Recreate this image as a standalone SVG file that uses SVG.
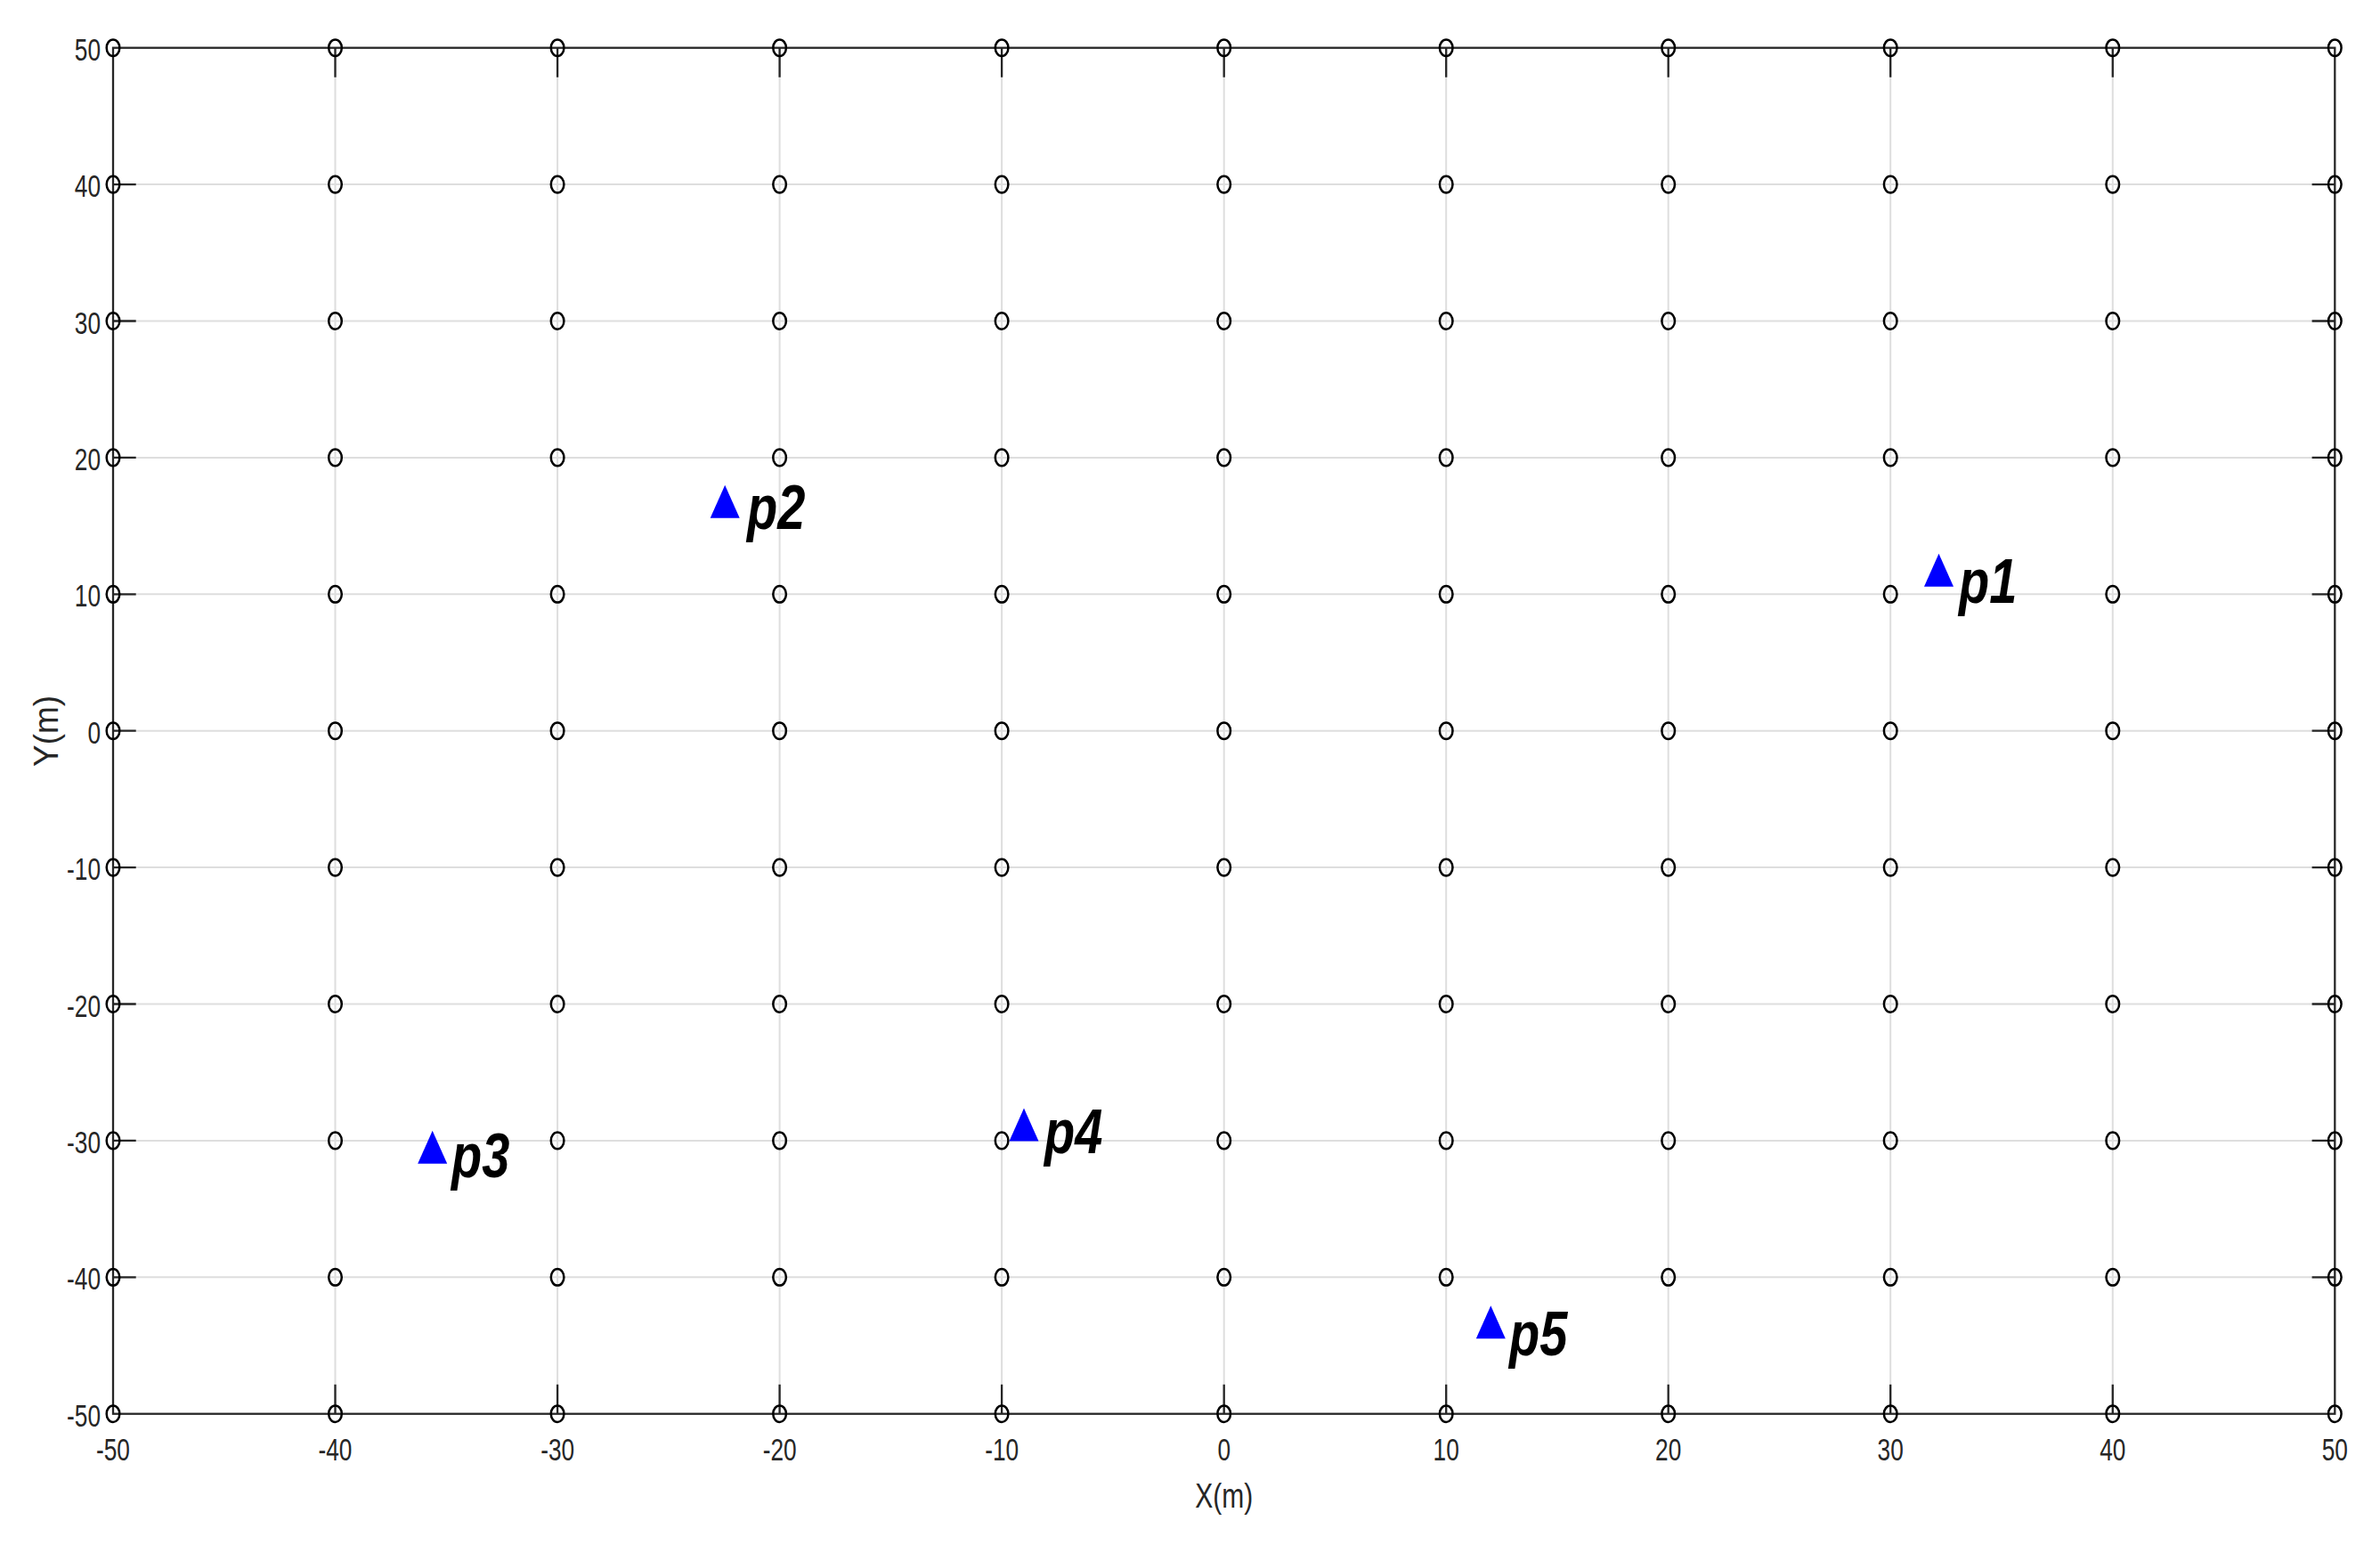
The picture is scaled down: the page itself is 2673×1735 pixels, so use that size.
<svg xmlns="http://www.w3.org/2000/svg" xmlns:xlink="http://www.w3.org/1999/xlink" width="2673" height="1735" viewBox="0 0 2673 1735">
<style>
.grid{stroke:#dedede;stroke-width:2;fill:none}
.axis{stroke:#262626;stroke-width:2.3;fill:none}
.pt{stroke:#000;stroke-width:2.5;fill:none}
.tick{font-family:"Liberation Sans",Arial,sans-serif;font-size:35px;fill:#262626}
.lab{font-family:"Liberation Sans",Arial,sans-serif;font-size:38.5px;fill:#262626}
.pl{font-family:"Liberation Sans",Arial,sans-serif;font-size:70px;font-weight:bold;font-style:italic;fill:#000}
.tri{fill:#0000ff}
</style>
<defs>
<g id="row">
<ellipse class="pt" cx="127" cy="0" rx="7.3" ry="9.3"/>
<ellipse class="pt" cx="376.5" cy="0" rx="7.3" ry="9.3"/>
<ellipse class="pt" cx="626.1" cy="0" rx="7.3" ry="9.3"/>
<ellipse class="pt" cx="875.6" cy="0" rx="7.3" ry="9.3"/>
<ellipse class="pt" cx="1125.1" cy="0" rx="7.3" ry="9.3"/>
<ellipse class="pt" cx="1374.7" cy="0" rx="7.3" ry="9.3"/>
<ellipse class="pt" cx="1624.2" cy="0" rx="7.3" ry="9.3"/>
<ellipse class="pt" cx="1873.7" cy="0" rx="7.3" ry="9.3"/>
<ellipse class="pt" cx="2123.2" cy="0" rx="7.3" ry="9.3"/>
<ellipse class="pt" cx="2372.8" cy="0" rx="7.3" ry="9.3"/>
<ellipse class="pt" cx="2622.3" cy="0" rx="7.3" ry="9.3"/>
</g>
<path id="tr" class="tri" d="M-16.5,18.5 L16.5,18.5 L0,-18.5 Z"/>
</defs>
<rect x="0" y="0" width="2673" height="1735" fill="#fff"/>
<g id="gridlines">
<path class="grid" d="M376.5,53.7V1587.7M626.1,53.7V1587.7M875.6,53.7V1587.7M1125.1,53.7V1587.7M1374.7,53.7V1587.7M1624.2,53.7V1587.7M1873.7,53.7V1587.7M2123.2,53.7V1587.7M2372.8,53.7V1587.7"/>
<path class="grid" d="M127,207.1H2622.3M127,360.5H2622.3M127,513.9H2622.3M127,667.3H2622.3M127,820.7H2622.3M127,974.1H2622.3M127,1127.5H2622.3M127,1280.9H2622.3M127,1434.3H2622.3"/>
</g>
<g id="axes">
<rect class="axis" x="127" y="53.7" width="2495.3" height="1534"/>
<path class="axis" d="M376.5,53.7v33M626.1,53.7v33M875.6,53.7v33M1125.1,53.7v33M1374.7,53.7v33M1624.2,53.7v33M1873.7,53.7v33M2123.2,53.7v33M2372.8,53.7v33
M376.5,1587.7v-33M626.1,1587.7v-33M875.6,1587.7v-33M1125.1,1587.7v-33M1374.7,1587.7v-33M1624.2,1587.7v-33M1873.7,1587.7v-33M2123.2,1587.7v-33M2372.8,1587.7v-33
M127,207.1h25.7M127,360.5h25.7M127,513.9h25.7M127,667.3h25.7M127,820.7h25.7M127,974.1h25.7M127,1127.5h25.7M127,1280.9h25.7M127,1434.3h25.7
M2622.3,207.1h-25.7M2622.3,360.5h-25.7M2622.3,513.9h-25.7M2622.3,667.3h-25.7M2622.3,820.7h-25.7M2622.3,974.1h-25.7M2622.3,1127.5h-25.7M2622.3,1280.9h-25.7M2622.3,1434.3h-25.7"/>
</g>
<g id="yticks" class="tick" text-anchor="end">
<text transform="translate(113,67.7) scale(0.75,1)">50</text>
<text transform="translate(113,221.1) scale(0.75,1)">40</text>
<text transform="translate(113,374.5) scale(0.75,1)">30</text>
<text transform="translate(113,527.9) scale(0.75,1)">20</text>
<text transform="translate(113,681.3) scale(0.75,1)">10</text>
<text transform="translate(113,834.7) scale(0.75,1)">0</text>
<text transform="translate(113,988.1) scale(0.75,1)">-10</text>
<text transform="translate(113,1141.5) scale(0.75,1)">-20</text>
<text transform="translate(113,1294.9) scale(0.75,1)">-30</text>
<text transform="translate(113,1448.3) scale(0.75,1)">-40</text>
<text transform="translate(113,1601.7) scale(0.75,1)">-50</text>
</g>
<g id="xticks" class="tick" text-anchor="middle">
<text transform="translate(127,1640) scale(0.75,1)">-50</text>
<text transform="translate(376.5,1640) scale(0.75,1)">-40</text>
<text transform="translate(626.1,1640) scale(0.75,1)">-30</text>
<text transform="translate(875.6,1640) scale(0.75,1)">-20</text>
<text transform="translate(1125.1,1640) scale(0.75,1)">-10</text>
<text transform="translate(1374.7,1640) scale(0.75,1)">0</text>
<text transform="translate(1624.2,1640) scale(0.75,1)">10</text>
<text transform="translate(1873.7,1640) scale(0.75,1)">20</text>
<text transform="translate(2123.2,1640) scale(0.75,1)">30</text>
<text transform="translate(2372.8,1640) scale(0.75,1)">40</text>
<text transform="translate(2622.3,1640) scale(0.75,1)">50</text>
</g>
<g id="labels" class="lab" text-anchor="middle">
<text transform="translate(1374.7,1693) scale(0.78,1)">X(m)</text>
<text transform="translate(65,821) rotate(-90) scale(0.96,1)">Y(m)</text>
</g>
<g id="points">
<use xlink:href="#row" href="#row" y="53.7"/>
<use xlink:href="#row" href="#row" y="207.1"/>
<use xlink:href="#row" href="#row" y="360.5"/>
<use xlink:href="#row" href="#row" y="513.9"/>
<use xlink:href="#row" href="#row" y="667.3"/>
<use xlink:href="#row" href="#row" y="820.7"/>
<use xlink:href="#row" href="#row" y="974.1"/>
<use xlink:href="#row" href="#row" y="1127.5"/>
<use xlink:href="#row" href="#row" y="1280.9"/>
<use xlink:href="#row" href="#row" y="1434.3"/>
<use xlink:href="#row" href="#row" y="1587.7"/>
</g>
<g id="p1"><use xlink:href="#tr" href="#tr" x="2177.5" y="640.3"/><text class="pl" transform="translate(2200,676.7) scale(0.8,1)">p1</text></g>
<g id="p2"><use xlink:href="#tr" href="#tr" x="814.2" y="563.3"/><text class="pl" transform="translate(839,594) scale(0.8,1)">p2</text></g>
<g id="p3"><use xlink:href="#tr" href="#tr" x="485.7" y="1288.3"/><text class="pl" transform="translate(507,1322) scale(0.8,1)">p3</text></g>
<g id="p4"><use xlink:href="#tr" href="#tr" x="1150" y="1263"/><text class="pl" transform="translate(1173,1295) scale(0.8,1)">p4</text></g>
<g id="p5"><use xlink:href="#tr" href="#tr" x="1674.3" y="1484.7"/><text class="pl" transform="translate(1695,1522) scale(0.8,1)">p5</text></g>
</svg>
